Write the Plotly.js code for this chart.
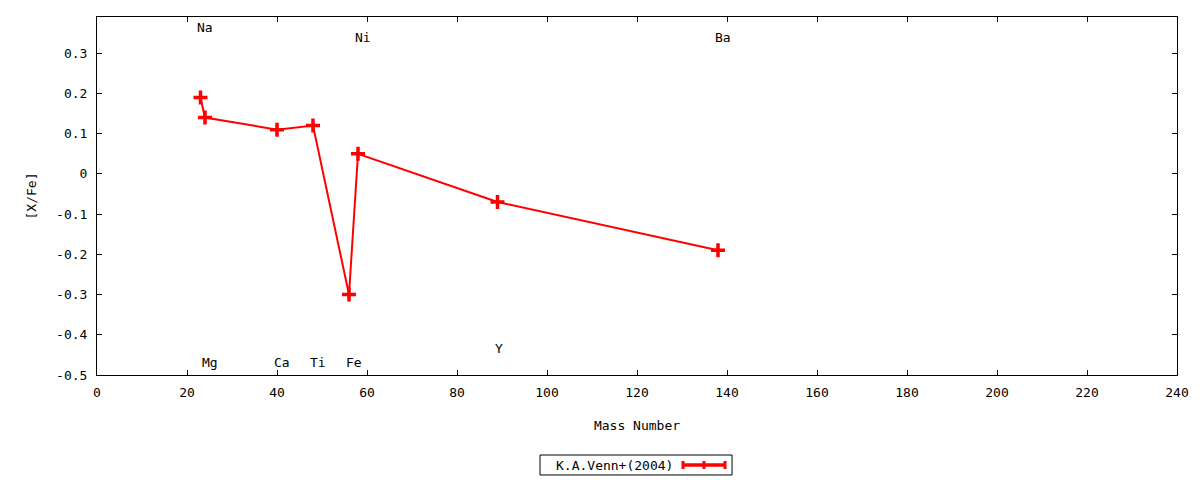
<!DOCTYPE html>
<html>
<head>
<meta charset="utf-8">
<script src="https://cdn.plot.ly/plotly-3.0.1.min.js"></script>
<style>html,body{margin:0;padding:0;background:#fff;}#chart{width:1200px;height:480px;}</style>
</head>
<body>
<div id="chart"></div>
<script>
const massNumbers = [23, 24, 40, 48, 56, 58, 89, 138];
const xFe = [0.19, 0.14, 0.11, 0.12, -0.30, 0.05, -0.07, -0.19];
const seriesName = 'K.A.Venn+(2004)';
const elementNames = ['Na', 'Ni', 'Ba', 'Mg', 'Ca', 'Ti', 'Fe', 'Y'];
const labelX = [24, 59, 139, 25, 41, 49, 57, 89.3];
const labelY = [0.365, 0.34, 0.34, -0.47, -0.47, -0.47, -0.47, -0.435];
const yTickVals = [-0.5, -0.4, -0.3, -0.2, -0.1, 0, 0.1, 0.2, 0.3];
const yTickText = ['-0.5', '-0.4', '-0.3', '-0.2', '-0.1', '0', '0.1', '0.2', '0.3'];

const FONT = 'DejaVu Sans Mono, monospace';
const RED = '#ff0000';

const trace = {
  x: massNumbers,
  y: xFe,
  name: seriesName,
  mode: 'lines+markers',
  type: 'scatter',
  showlegend: false,
  line: {color: RED, width: 2},
  marker: {symbol: 'cross-thin', size: 10, color: RED, line: {color: RED, width: 3.5}}
};

const annotations = elementNames.map((t, i) => ({
  x: labelX[i], y: labelY[i], xref: 'x', yref: 'y', text: t, showarrow: false,
  font: {family: FONT, size: 13, color: '#000'}
}));
annotations.push({
  x: 0.4796, y: -0.2514, xref: 'paper', yref: 'paper', text: seriesName, showarrow: false,
  xanchor: 'center', yanchor: 'middle', font: {family: FONT, size: 13, color: '#000'}
});

const shapes = [
  {type: 'rect', xref: 'paper', yref: 'paper', x0: 0.4102, x1: 0.588, y0: -0.2793, y1: -0.2235,
   line: {color: '#000', width: 1}, fillcolor: 'rgba(0,0,0,0)'},
  {type: 'line', xref: 'paper', yref: 'paper', x0: 0.5426, x1: 0.5815, y0: -0.2514, y1: -0.2514,
   line: {color: RED, width: 3.5}},
  {type: 'line', xref: 'paper', yref: 'paper', x0: 0.5426, x1: 0.5426, y0: -0.2402, y1: -0.2626,
   line: {color: RED, width: 3}},
  {type: 'line', xref: 'paper', yref: 'paper', x0: 0.5815, x1: 0.5815, y0: -0.2402, y1: -0.2626,
   line: {color: RED, width: 3}},
  {type: 'line', xref: 'paper', yref: 'paper', x0: 0.5620, x1: 0.5620, y0: -0.2402, y1: -0.2626,
   line: {color: RED, width: 3}}
];

const layout = {
  width: 1200, height: 480,
  margin: {l: 97, r: 23, t: 17, b: 105, autoexpand: false},
  paper_bgcolor: '#fff', plot_bgcolor: '#fff',
  font: {family: FONT, size: 13, color: '#000'},
  showlegend: false,
  xaxis: {
    range: [0, 240], dtick: 20, tick0: 0,
    ticks: 'inside', ticklen: 5, tickcolor: '#000', mirror: 'ticks',
    showline: true, linecolor: '#000', linewidth: 1,
    showgrid: false, zeroline: false, automargin: false,
    ticklabelstandoff: 5,
    title: {text: 'Mass Number', font: {family: FONT, size: 13}, standoff: 22},
    tickfont: {family: FONT, size: 13}
  },
  yaxis: {
    range: [-0.5, 0.39],
    tickmode: 'array', tickvals: yTickVals, ticktext: yTickText,
    ticks: 'inside', ticklen: 5, tickcolor: '#000', mirror: 'ticks',
    showline: true, linecolor: '#000', linewidth: 1,
    showgrid: false, zeroline: false, automargin: false,
    ticklabelstandoff: 6,
    title: {text: '[X/Fe]', font: {family: FONT, size: 13}, standoff: 16},
    tickfont: {family: FONT, size: 13}
  },
  annotations: annotations,
  shapes: shapes
};

Plotly.newPlot('chart', [trace], layout, {displayModeBar: false, staticPlot: true});
</script>
</body>
</html>
